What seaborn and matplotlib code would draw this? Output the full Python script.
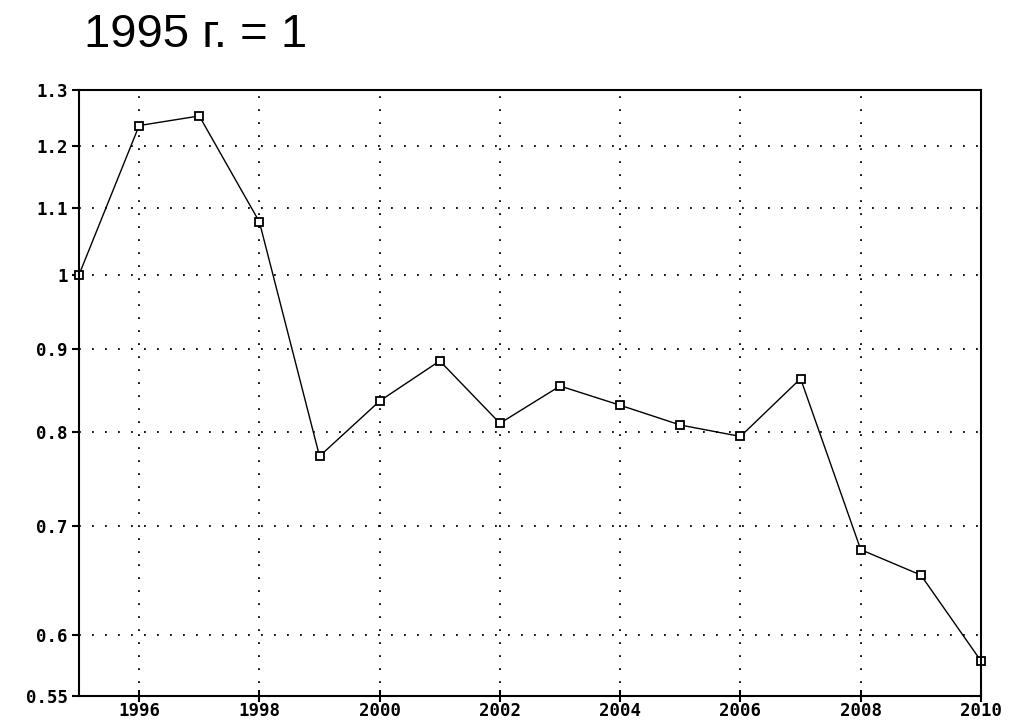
import matplotlib
matplotlib.use("Agg")
import matplotlib.pyplot as plt
import matplotlib.ticker as mticker
import seaborn as sns
import pandas as pd

# data (index, 1995 = 1)
years = list(range(1995, 2011))
index = [1.0, 1.236, 1.253, 1.078, 0.773, 0.836, 0.885, 0.810,
         0.854, 0.831, 0.808, 0.795, 0.863, 0.677, 0.653, 0.578]

x_ticks = [1996, 1998, 2000, 2002, 2004, 2006, 2008, 2010]
y_ticks = [0.55, 0.6, 0.7, 0.8, 0.9, 1.0, 1.1, 1.2, 1.3]
y_labels = ["0.55", "0.6", "0.7", "0.8", "0.9", "1", "1.1", "1.2", "1.3"]

df = pd.DataFrame({"year": years, "index": index})

sns.set_style("white")
plt.rcParams["font.family"] = ["DejaVu Sans Mono"]

fig = plt.figure(figsize=(10.11, 7.2), dpi=100)
ax = fig.add_axes([79 / 1011, 1 - 696 / 720, 902 / 1011, 606 / 720])

sns.lineplot(data=df, x="year", y="index", ax=ax, color="black", linewidth=1.0,
             marker="s", markersize=6, markerfacecolor="white",
             markeredgecolor="black", markeredgewidth=1.3, clip_on=False)

ax.set_yscale("log")
ax.set_xlim(1995, 2010)
ax.set_ylim(0.55, 1.3)
ax.yaxis.set_major_locator(mticker.FixedLocator(y_ticks))
ax.yaxis.set_minor_locator(mticker.NullLocator())
ax.set_yticklabels(y_labels)
ax.set_xticks(x_ticks)
ax.set_xticklabels([str(y) for y in x_ticks])

# dotted grid, dots about 13 px apart
ax.grid(True, color="black", linestyle=(0, (1, 6.2)), linewidth=1.3)
for s in ax.spines.values():
    s.set_color("black")
    s.set_linewidth(1.5)

# the white style switches ticks off, bring them back
ax.tick_params(axis="both", colors="black", labelsize=12.5, width=1.5,
               bottom=True, left=True)
ax.tick_params(axis="x", direction="inout", length=8, pad=0)
ax.tick_params(axis="y", direction="out", length=5, pad=3)
for lab in ax.get_xticklabels() + ax.get_yticklabels():
    lab.set_fontweight("bold")

ax.set_xlabel("")
ax.set_ylabel("")

fig.text(84 / 1011, 1 - 47 / 720, "1995 г. = 1", fontsize=34,
         family=["Liberation Sans", "DejaVu Sans"], color="black",
         ha="left", va="baseline")

fig.savefig("out.png", dpi=100, facecolor="white")
